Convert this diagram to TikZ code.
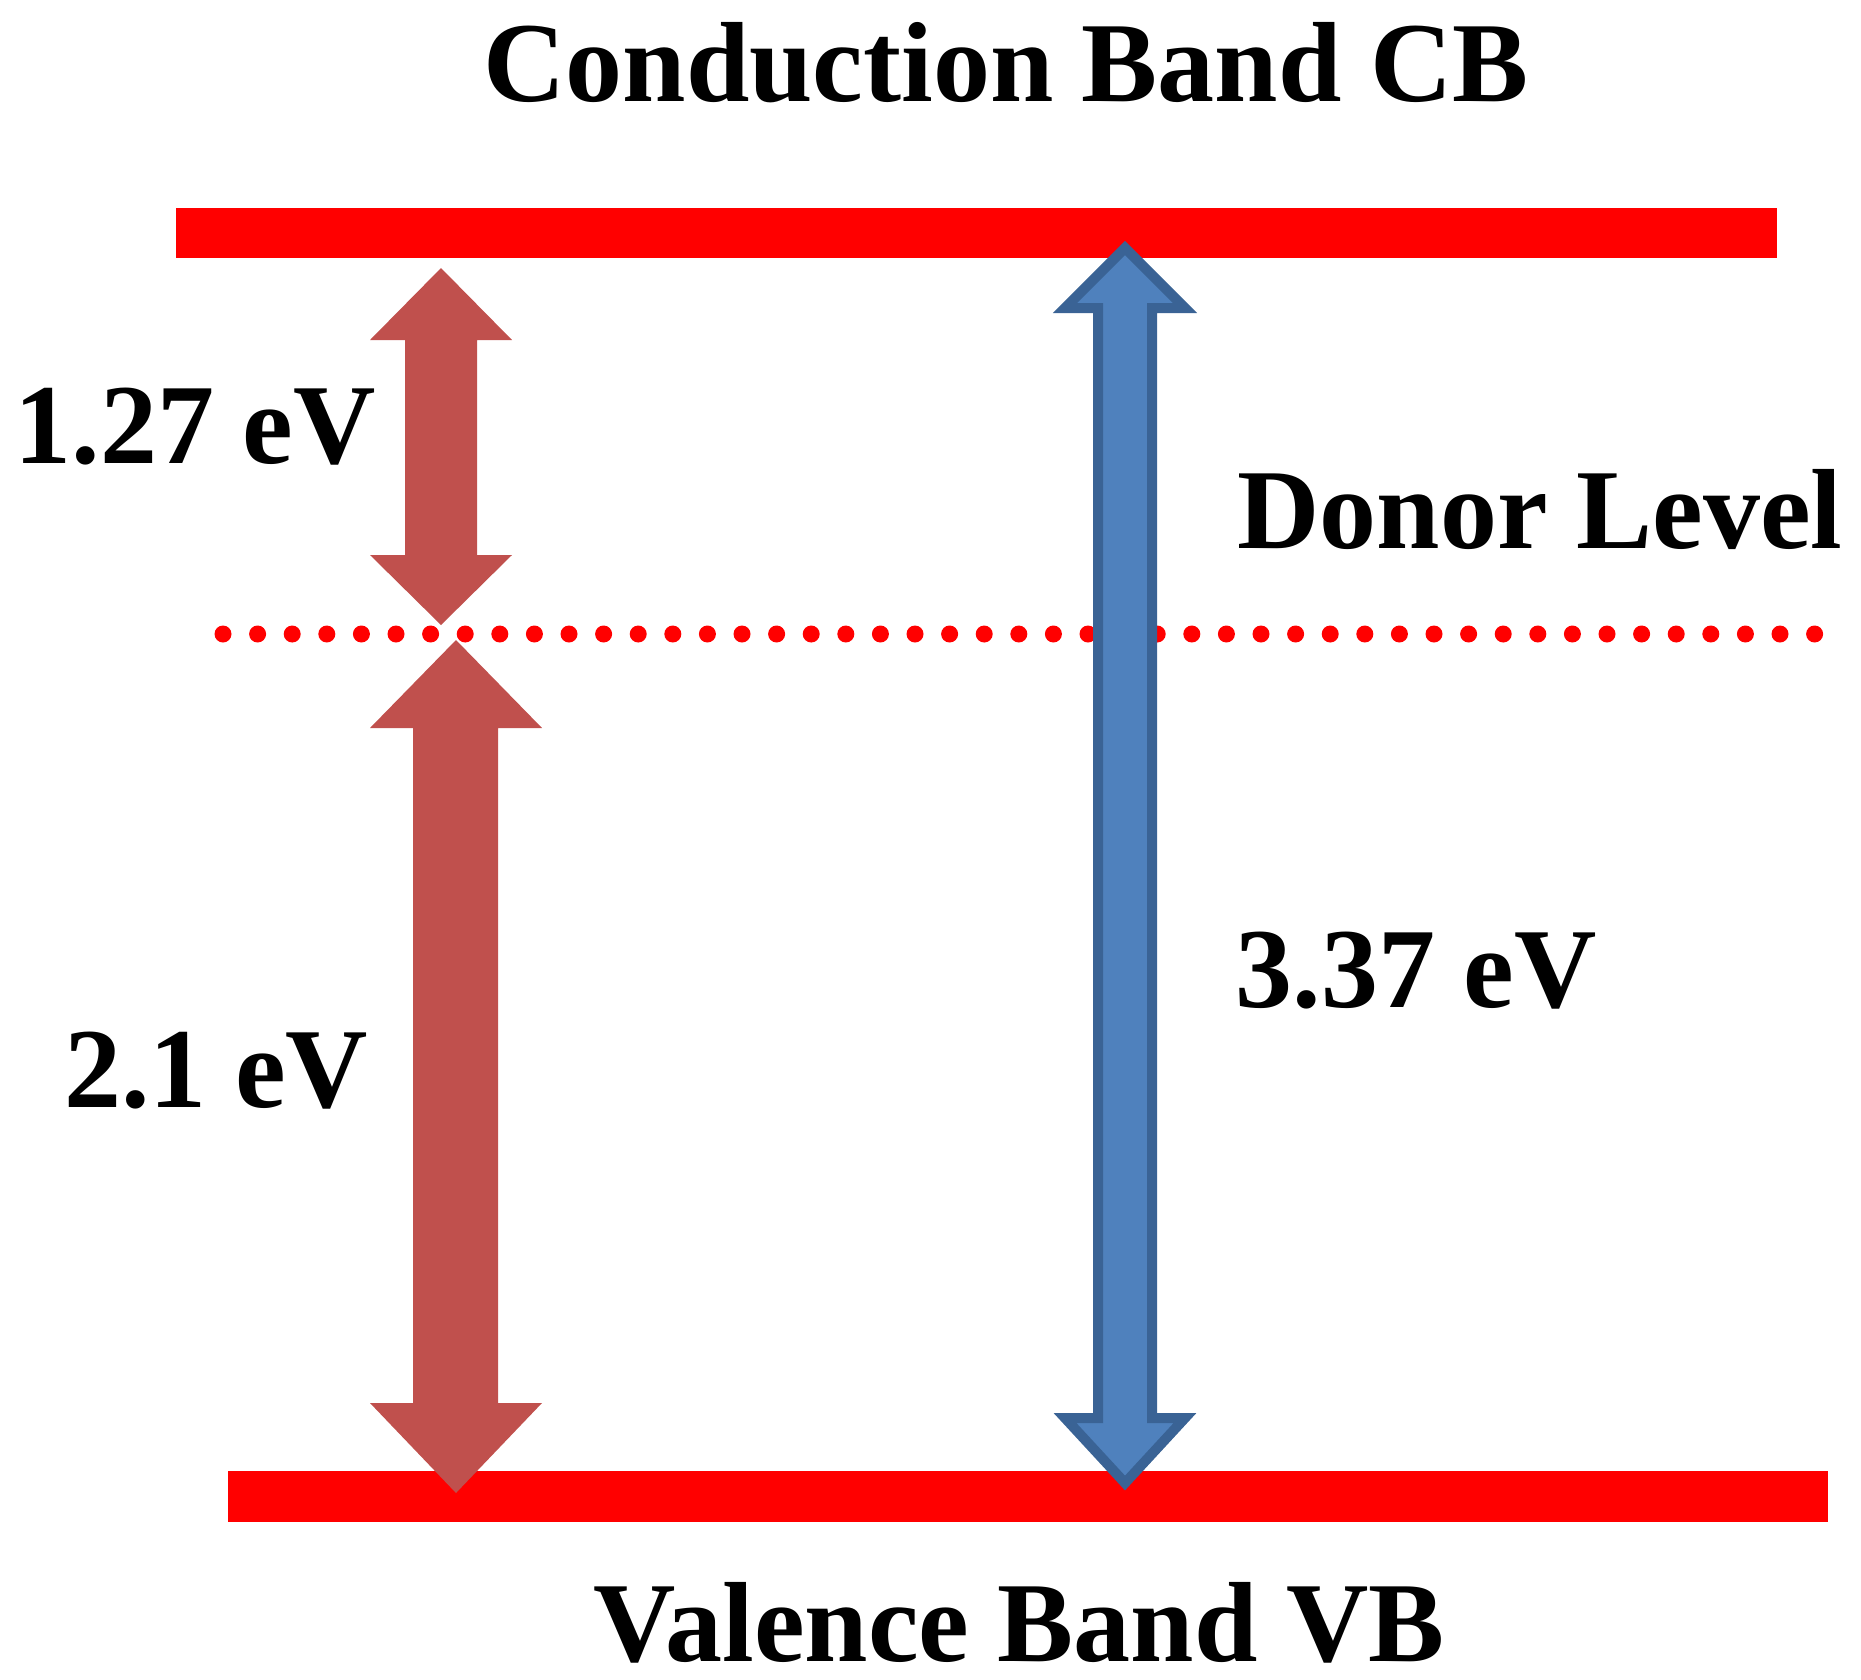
\documentclass[tikz,border=0pt]{standalone}
\usepackage{fontspec}
\setmainfont{Liberation Serif}
\definecolor{bandred}{HTML}{FF0000}
\definecolor{arrred}{HTML}{C0504D}
\definecolor{arrblue}{HTML}{4F81BD}
\definecolor{arrblueline}{HTML}{3A6395}
\tikzset{
  lbl/.style={font=\fontsize{114}{120}\selectfont\bfseries, inner sep=0pt, anchor=base, text=black, text depth=0pt},
  band/.style={fill=bandred, draw=none},
  redarr/.style={fill=arrred, draw=none},
  bluearr/.style={fill=arrblue, draw=arrblueline, line width=10pt, line join=miter},
  donor/.style={draw=bandred, line width=17pt, line cap=round, dash pattern=on 0pt off 34.6pt}
}
\begin{document}
\begin{tikzpicture}[x=1pt,y=-1pt]
\useasboundingbox (0,0) rectangle (1861,1679);
% bands
\path[band] (176,208) rectangle (1777,258);
\path[band] (228,1471) rectangle (1828,1522);
% donor level (dotted)
\coordinate (dl0) at (223,634);
\coordinate (dl1) at (1828,634);
\draw[donor] (dl0) -- (dl1);
% red arrow 1.27 eV
\path[redarr] (441,268) -- (512,340) -- (477,340) -- (477,555) -- (512,555) -- (441,625)
  -- (370,555) -- (405,555) -- (405,340) -- (370,340) -- cycle;
% red arrow 2.1 eV
\path[redarr] (456,640) -- (542,728) -- (498,728) -- (498,1403) -- (542,1403) -- (456,1493)
  -- (370,1403) -- (413,1403) -- (413,728) -- (370,728) -- cycle;
% blue arrow 3.37 eV
\path[bluearr] (1125,248) -- (1185,308) -- (1152,308) -- (1152,1418) -- (1185,1418) -- (1125,1483)
  -- (1065,1418) -- (1098,1418) -- (1098,308) -- (1065,308) -- cycle;
% labels
\node[lbl] (cb) at (1006,101) {Conduction Band CB};
\node[lbl] (vb) at (1019,1661) {Valence Band VB};
\node[lbl] (e1) at (195,463) {1.27 eV};
\node[lbl] (e2) at (216,1107) {2.1 eV};
\node[lbl] (e3) at (1416,1007) {3.37 eV};
\node[lbl] (dn) at (1540,548) {Donor Level};
\end{tikzpicture}
\end{document}
